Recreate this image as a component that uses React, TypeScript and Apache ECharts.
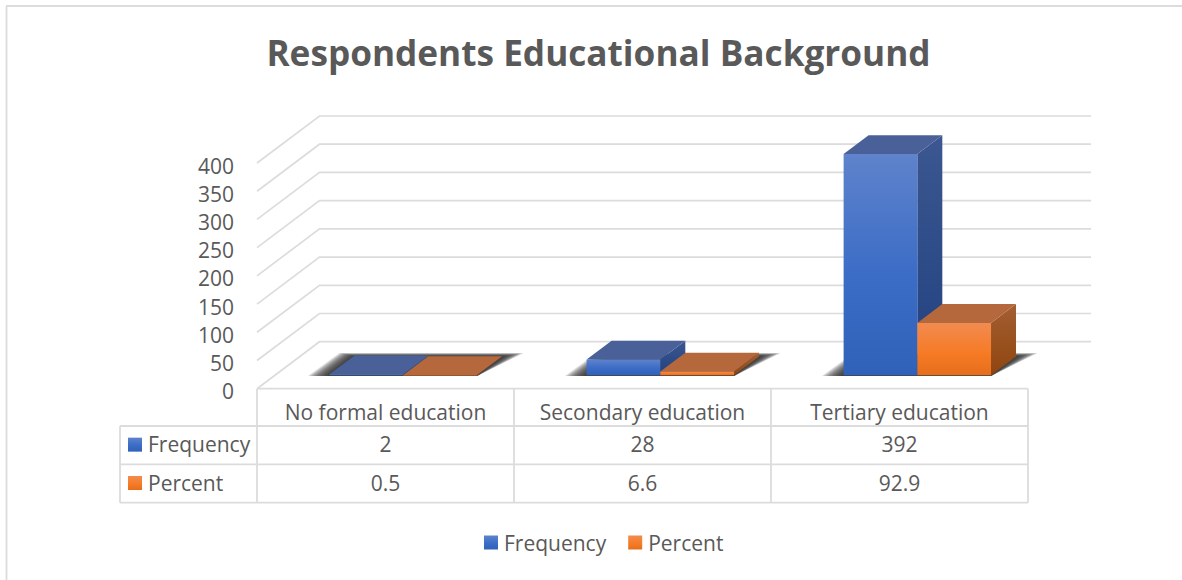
import React, { useEffect, useRef } from "react";
import * as echarts from "echarts";

const titleText = "Respondents Educational Background";
const categories = ["No formal education", "Secondary education", "Tertiary education"];
const frequency = [2, 28, 392];
const percent = [0.5, 6.6, 92.9];
const frequencyCells = ["2", "28", "392"];
const percentCells = ["0.5", "6.6", "92.9"];
const gridTicks = [0, 50, 100, 150, 200, 250, 300, 350, 400];

const FONT = "'Open Sans', sans-serif";
const TEXT = "#595959";
const RULE = "#dcdcdc";
const LABEL_SIZE = 21;

// Oblique offset of the back wall relative to the front plane.
const WALL_DX = 62.5;
const WALL_DY = 47;
// Where each bar box starts on the floor, and how deep it is, as wall fractions.
const BAR_START = 0.285;
const BAR_DEPTH = 0.4;
const BAR_WIDTH = 73.7;
const WALL_RIGHT = 1091;
// The tick labels sit slightly below the front plane they annotate.
const PLANE_LIFT = 2.5;

const TABLE_LEFT = 120;
const GRID_LEFT = 257;
const COLUMN = 257;
const ROWS_Y = [388.7, 426, 464.3, 502.7];

const SHADOW_LAYERS = 14;

const vGrad = (stops: [number, string][]) => ({
  type: "linear",
  x: 0,
  y: 0,
  x2: 0,
  y2: 1,
  colorStops: stops.map(([offset, color]) => ({ offset, color })),
});

const blueFront = vGrad([[0, "#5f83cc"], [0.55, "#3b6cc6"], [1, "#3162b9"]]);
const blueSide = vGrad([[0, "#3c5791"], [1, "#20417f"]]);
const orangeFront = vGrad([[0, "#f28b50"], [0.6, "#f67a24"], [1, "#e56e1c"]]);
const orangeSide = vGrad([[0, "#a35e31"], [1, "#8f450f"]]);

const barBox =
  (slot: number, front: any, side: any, top: string) => (_: any, api: any) => {
    const idx = api.value(0);
    const val = api.value(1);
    const base = api.coord([idx, 0]);
    const head = api.coord([idx, val]);
    const ox = WALL_DX * BAR_START;
    const oy = WALL_DY * BAR_START + PLANE_LIFT;
    const dx = WALL_DX * BAR_DEPTH;
    const dy = WALL_DY * BAR_DEPTH;
    const x0 = base[0] + ox + (slot === 0 ? -BAR_WIDTH : 0);
    const x1 = x0 + BAR_WIDTH;
    const yb = base[1] - oy;
    const yt = head[1] - oy;
    return {
      type: "group",
      children: [
        {
          type: "polygon",
          shape: { points: [[x1, yb], [x1 + dx, yb - dy], [x1 + dx, yt - dy], [x1, yt]] },
          style: { fill: side },
        },
        {
          type: "polygon",
          shape: { points: [[x0, yt], [x1, yt], [x1 + dx, yt - dy], [x0 + dx, yt - dy]] },
          style: { fill: top },
        },
        {
          type: "rect",
          shape: { x: x0, y: yt, width: BAR_WIDTH, height: Math.max(yb - yt, 0.4) },
          style: { fill: front },
        },
      ],
    };
  };

const renderWallLine = (params: any, api: any) => {
  const p = api.coord([0, api.value(0)]);
  const x0 = params.coordSys.x;
  const y = p[1] - PLANE_LIFT;
  return {
    type: "polyline",
    shape: { points: [[x0, y], [x0 + WALL_DX, y - WALL_DY], [WALL_RIGHT, y - WALL_DY]] },
    style: { fill: "none", stroke: RULE, lineWidth: 1.7 },
  };
};

// Soft contact shadow on the floor: stacked translucent parallelograms, widest first.
const renderFloorShadow = (_: any, api: any) => {
  const base = api.coord([api.value(0), 0]);
  const ox = WALL_DX * BAR_START;
  const oy = WALL_DY * BAR_START + PLANE_LIFT;
  const left = base[0] + ox - BAR_WIDTH;
  const right = base[0] + ox + BAR_WIDTH;
  const yb = base[1] - oy;
  const dx = WALL_DX * BAR_DEPTH;
  const dy = WALL_DY * BAR_DEPTH;
  const children: any[] = [];
  for (let k = SHADOW_LAYERS; k >= 1; k--) {
    const e = k * 1.55;
    const lift = k * 0.25;
    children.push({
      type: "polygon",
      shape: {
        points: [
          [left - e, yb + 0.6],
          [right, yb + 0.6],
          [right + dx + e, yb - dy - lift],
          [left + dx - e * 0.7, yb - dy - lift],
        ],
      },
      style: { fill: "rgba(45,45,45,0.14)" },
    });
  }
  return { type: "group", children };
};

const tableGraphics = () => {
  const right = GRID_LEFT + COLUMN * categories.length;
  const rule = (x1: number, y1: number, x2: number, y2: number) => ({
    type: "line",
    shape: { x1, y1, x2, y2 },
    style: { stroke: RULE, lineWidth: 1.8 },
    silent: true,
  });
  const cell = (x: number, y: number, text: string, align: string) => ({
    type: "text",
    x,
    y,
    style: {
      text,
      fill: TEXT,
      font: `${LABEL_SIZE}px ${FONT}`,
      textAlign: align,
      textVerticalAlign: "middle",
    },
  });
  const out: any[] = [
    rule(6, 6, 1182, 6),
    rule(6.5, 6, 6.5, 580),
    rule(GRID_LEFT, ROWS_Y[0], right, ROWS_Y[0]),
    rule(TABLE_LEFT, ROWS_Y[1], right, ROWS_Y[1]),
    rule(TABLE_LEFT, ROWS_Y[2], right, ROWS_Y[2]),
    rule(TABLE_LEFT, ROWS_Y[3], right, ROWS_Y[3]),
    rule(TABLE_LEFT, ROWS_Y[1], TABLE_LEFT, ROWS_Y[3]),
  ];
  categories.forEach((_, i) => {
    out.push(rule(GRID_LEFT + COLUMN * i, ROWS_Y[0], GRID_LEFT + COLUMN * i, ROWS_Y[3]));
  });
  out.push(rule(right, ROWS_Y[0], right, ROWS_Y[3]));

  const rows: [string, string[], any][] = [
    ["Frequency", frequencyCells, blueFront],
    ["Percent", percentCells, orangeFront],
  ];
  rows.forEach(([name, cells, fill], r) => {
    const mid = (ROWS_Y[r + 1] + ROWS_Y[r + 2]) / 2 - 1;
    out.push({
      type: "rect",
      shape: { x: 128, y: mid - 6.5, width: 14, height: 14 },
      style: { fill },
    });
    out.push(cell(148, mid, name, "left"));
    cells.forEach((c, i) => {
      out.push(cell(GRID_LEFT + COLUMN * (i + 0.5), mid, c, "center"));
    });
  });
  return out;
};

export default function App() {
  const ref = useRef<HTMLDivElement>(null);

  useEffect(() => {
    const chart = echarts.init(ref.current!, undefined, { renderer: "svg" });
    chart.setOption({
      animation: false,
      backgroundColor: "#ffffff",
      title: {
        text: titleText,
        left: 593.5,
        top: 29,
        textAlign: "center",
        textStyle: { fontFamily: FONT, fontSize: 35.2, fontWeight: "bold", color: TEXT },
      },
      legend: {
        data: ["Frequency", "Percent"],
        left: 484,
        top: 532,
        padding: 0,
        icon: "rect",
        itemWidth: 14,
        itemHeight: 14,
        itemGap: 22,
        textStyle: { fontFamily: FONT, fontSize: LABEL_SIZE, color: TEXT, padding: [0, 0, 0, 1] },
      },
      grid: {
        left: GRID_LEFT,
        top: 163 + PLANE_LIFT,
        width: COLUMN * categories.length,
        height: 225.7,
      },
      xAxis: {
        type: "category",
        data: categories,
        axisLine: { show: false },
        axisTick: { show: false },
        axisLabel: {
          fontFamily: FONT,
          fontSize: LABEL_SIZE,
          color: TEXT,
          margin: 13 - PLANE_LIFT,
          interval: 0,
        },
      },
      yAxis: {
        type: "value",
        min: 0,
        max: 400,
        interval: 50,
        splitLine: { show: false },
        axisLine: { show: false },
        axisTick: { show: false },
        axisLabel: {
          fontFamily: FONT,
          fontSize: LABEL_SIZE,
          color: TEXT,
          margin: 23,
        },
      },
      series: [
        {
          name: "walls",
          type: "custom",
          silent: true,
          data: gridTicks.map((v) => [v]),
          encode: { y: 0 },
          renderItem: renderWallLine,
        },
        {
          name: "floor shadow",
          type: "custom",
          silent: true,
          data: categories.map((_, i) => [i]),
          encode: { x: 0 },
          renderItem: renderFloorShadow,
        },
        {
          name: "Frequency",
          type: "custom",
          data: frequency.map((v, i) => [i, v]),
          encode: { x: 0, y: 1 },
          itemStyle: { color: blueFront },
          renderItem: barBox(0, blueFront, blueSide, "#4a6098"),
        },
        {
          name: "Percent",
          type: "custom",
          data: percent.map((v, i) => [i, v]),
          encode: { x: 0, y: 1 },
          itemStyle: { color: orangeFront },
          renderItem: barBox(1, orangeFront, orangeSide, "#b5683c"),
        },
      ],
      graphic: { elements: tableGraphics() },
    });
    return () => chart.dispose();
  }, []);

  return (
    <div
      ref={ref}
      style={{ position: "fixed", left: 0, top: 0, width: 1182, height: 580 }}
    />
  );
}
